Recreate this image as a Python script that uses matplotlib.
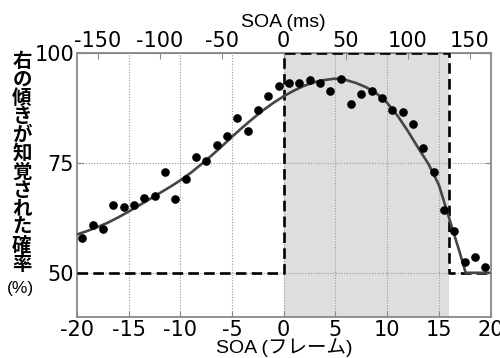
import matplotlib
matplotlib.use("Agg")
import matplotlib.pyplot as plt

plt.rcParams['axes.unicode_minus'] = False
plt.rcParams['font.family'] = ['DejaVu Sans', 'Noto Sans CJK JP']

# observed data (frames, % rightward tilt perceived)
soa_frames = [-19.5, -18.5, -17.5, -16.5, -15.5, -14.5, -13.5, -12.5, -11.5, -10.5,
              -9.5, -8.5, -7.5, -6.5, -5.5, -4.5, -3.5, -2.5, -1.5, -0.5,
              0.5, 1.5, 2.5, 3.5, 4.5, 5.5, 6.5, 7.5, 8.5, 9.5,
              10.5, 11.5, 12.5, 13.5, 14.5, 15.5, 16.5, 17.5, 18.5, 19.5]
p_right = [58.0, 60.8, 60.0, 65.3, 65.0, 65.3, 67.0, 67.4, 72.9, 66.8,
           71.2, 76.3, 75.4, 79.0, 81.0, 85.2, 82.3, 86.9, 90.1, 92.4,
           93.0, 93.2, 93.75, 93.2, 91.2, 94.1, 88.4, 90.6, 91.2, 89.7,
           86.9, 86.6, 83.8, 78.3, 72.8, 64.3, 59.4, 52.5, 53.6, 51.3]

# fitted curve
fit_x = [-20, -19, -18, -17, -16, -15, -14, -13, -12, -11, -10, -9, -8, -7, -6, -5,
         -4, -3, -2, -1, 0, 1, 2, 3, 4, 5, 6, 7, 8, 9, 10, 11, 12, 13, 14, 15,
         16, 17, 17.6, 20]
fit_y = [58.7, 59.5, 60.4, 61.4, 62.6, 63.9, 65.3, 66.7, 68.1, 69.5, 71.0, 72.7,
         74.6, 76.6, 78.7, 80.9, 83.0, 85.0, 86.9, 88.6, 90.1, 91.4, 92.5, 93.3,
         93.8, 94.1, 93.8, 93.1, 92.1, 90.7, 88.6, 85.7, 82.2, 78.4, 74.7, 70.0,
         62.4, 54.8, 50.0, 50.0]

# ideal step (frames)
step_x = [-20, 0, 0, 16, 16, 20]
step_y = [50, 50, 100, 100, 50, 50]
shade_range = (0, 16)

x_ticks = [-20, -15, -10, -5, 0, 5, 10, 15, 20]
y_ticks = [50, 75, 100]
ms_ticks = [-150, -100, -50, 0, 50, 100, 150]
ms_per_frame = 1000.0 / 120.0

ylabel_chars = list("右の傾きが知覚された確率")

fig = plt.figure(figsize=(5.0, 3.58), dpi=100)
ax = fig.add_axes([0.154, 0.115, 0.827, 0.738])

ax.axvspan(shade_range[0], shade_range[1], color='#dedede', zorder=0, lw=0)
for xv in x_ticks[1:-1]:
    ax.axvline(xv, color='#999999', ls=(0, (1, 1.5)), lw=0.8, zorder=1)
for yv in [50, 75]:
    ax.axhline(yv, color='#999999', ls=(0, (1, 1.5)), lw=0.8, zorder=1)

ax.plot(step_x, step_y, color='black', lw=1.9, ls=(0, (4, 2)), zorder=3)
ax.plot(fit_x, fit_y, color='#454545', lw=1.9, zorder=4, solid_capstyle='butt')
ax.plot(soa_frames, p_right, 'o', color='black', ms=5.2, zorder=5)

ax.set_xlim(-20, 20)
ax.set_ylim(40, 100)
ax.set_xticks(x_ticks)
ax.set_xticklabels([str(v) for v in x_ticks])
ax.set_yticks(y_ticks)
ax.set_yticklabels([str(v) for v in y_ticks])
ax.tick_params(axis='both', direction='in', length=4, color='#888888',
               labelsize=15, pad=2, right=True)

for sp in ax.spines.values():
    sp.set_color('#888888')
    sp.set_linewidth(1.3)

sec = ax.secondary_xaxis('top', functions=(lambda f: f * ms_per_frame,
                                           lambda m: m / ms_per_frame))
sec.set_xticks(ms_ticks)
sec.set_xticklabels([str(v) for v in ms_ticks])
sec.tick_params(direction='in', length=4, color='#888888', labelsize=15, pad=1)
sec.spines['top'].set_color('#888888')
sec.set_xlabel('SOA (ms)', fontsize=14, labelpad=3,
               family=['Liberation Sans', 'Noto Sans CJK JP'])

ax.set_xlabel('SOA (フレーム)', fontsize=14, labelpad=-1,
              family=['Liberation Sans', 'Noto Sans CJK JP'])

# vertical stacked y label
top_px, step_px = 61.5, 18.45
for i, ch in enumerate(ylabel_chars):
    ypx = top_px + i * step_px
    fig.text(22 / 500, 1 - ypx / 358, ch, fontsize=14, ha='center', va='center',
             family=['Noto Sans CJK JP'], fontweight='bold')
fig.text(20 / 500, 1 - 289 / 358, '(%)', fontsize=12.5, ha='center', va='center',
         family=['Liberation Sans'])

fig.savefig('out.png', dpi=100)
